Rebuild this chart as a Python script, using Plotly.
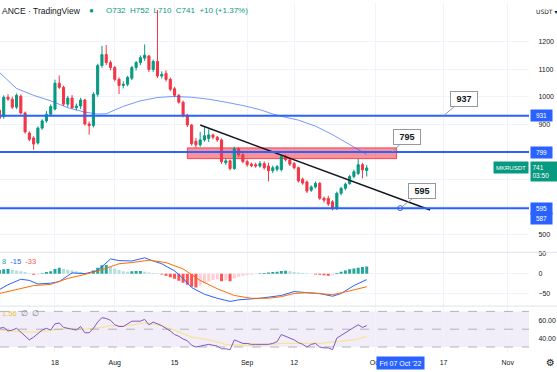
import pandas as pd
import plotly.graph_objects as go

# ---------------- data (daily MKRUSDT, Jul 5 - Sep 29 2022) ----------------
first_day = "2022-07-05"
opens = [951, 928, 998, 991, 962, 1002, 941, 868, 850, 832, 886, 912, 936,
         955, 1049, 1034, 973, 995, 960, 966, 988, 901, 895, 1009, 1113, 1153,
         1124, 1106, 1063, 1041, 1045, 1067, 1106, 1124, 1140, 1148, 1099, 1128,
         1075, 1085, 1063, 1029, 1005, 980, 933, 897, 838, 825, 843, 848, 861, 853,
         843, 760, 767, 739, 811, 789, 764, 755, 753, 748,
         757, 748, 731, 736, 735, 782, 771, 757, 742, 700, 690, 660, 672, 685, 631,
         630, 618, 593, 649, 667, 684, 710, 721, 753, 732]
highs = [960, 1005, 1009, 1000, 1012, 1008, 946, 874, 856, 892, 918, 948, 972,
         1062, 1077, 1040, 1003, 1006, 975, 996, 992, 910, 1016, 1120, 1185, 1188,
         1132, 1112, 1070, 1056, 1076, 1112, 1130, 1150, 1190, 1152, 1135, 1315,
         1092, 1096, 1070, 1036, 1010, 986, 938, 901, 850, 872, 890, 882, 866, 857,
         848, 776, 771, 818, 816, 795, 771, 761, 760, 766,
         765, 760, 750, 752, 787, 790, 777, 763, 746, 706, 696, 678, 692, 690, 637,
         640, 624, 655, 672, 688, 716, 735, 775, 760, 752]
lows = [915, 920, 985, 955, 955, 935, 866, 838, 807, 826, 880, 905, 930,
        950, 1028, 966, 962, 955, 950, 955, 895, 862, 888, 1000, 1105, 1115,
        1096, 1056, 1010, 1030, 1038, 1060, 1095, 1115, 1130, 1090, 1090, 1068,
        1066, 1055, 1020, 998, 975, 925, 890, 822, 815, 818, 836, 835, 845, 836,
        756, 752, 732, 734, 780, 758, 745, 744, 742, 742,
        735, 692, 722, 728, 728, 765, 748, 736, 688, 680, 650, 654, 667, 625, 615,
        603, 587, 588, 642, 660, 680, 703, 715, 703, 710]
closes = [922, 998, 991, 962, 1005, 941, 872, 845, 828, 886, 912, 936, 964,
          1049, 1034, 973, 995, 960, 966, 988, 901, 895, 1009, 1113, 1153, 1124,
          1106, 1063, 1041, 1045, 1070, 1106, 1124, 1142, 1151, 1099, 1128, 1075,
          1081, 1063, 1027, 1005, 980, 933, 897, 829, 825, 843, 858, 861, 853, 843,
          764, 767, 739, 811, 789, 764, 753, 749, 748, 757,
          742, 731, 742, 746, 782, 771, 755, 742, 694, 686, 657, 672, 685, 631, 624,
          610, 592, 649, 667, 682, 710, 727, 753, 734, 741]

# moving average (dates, values)
ma_dates = ["2022-07-05", "2022-07-09", "2022-07-13", "2022-07-17", "2022-07-21",
            "2022-07-25", "2022-07-28", "2022-07-30", "2022-08-03", "2022-08-07",
            "2022-08-11", "2022-08-15", "2022-08-19", "2022-08-23", "2022-08-27",
            "2022-08-31", "2022-09-04", "2022-09-07", "2022-09-10", "2022-09-13",
            "2022-09-17", "2022-09-21", "2022-09-25", "2022-09-29"]
ma_values = [1088, 1030, 1005, 985, 960, 944, 937, 938, 965, 985, 997, 1001,
             998, 991, 980, 968, 953, 937, 925, 915, 893, 862, 826, 790]

# MACD pane
macd_dates = ["2022-07-05", "2022-07-07", "2022-07-10", "2022-07-12", "2022-07-14",
              "2022-07-17", "2022-07-19", "2022-07-22", "2022-07-25", "2022-07-28",
              "2022-07-31", "2022-08-02", "2022-08-05", "2022-08-08", "2022-08-10",
              "2022-08-12", "2022-08-15", "2022-08-17", "2022-08-19", "2022-08-22",
              "2022-08-25", "2022-08-28", "2022-08-30", "2022-09-04", "2022-09-09",
              "2022-09-12", "2022-09-15", "2022-09-18", "2022-09-21", "2022-09-23",
              "2022-09-26", "2022-09-29"]
macd_values = [-40, -28, -14, -17, -26, -24, -20, 2, 0, 8, 37, 33, 32, 40, 32, 25,
               7, -12, -35, -52, -62, -70, -66, -62, -55, -45, -48, -50, -57, -50,
               -30, -15]
signal_dates = ["2022-07-05", "2022-07-08", "2022-07-13", "2022-07-17", "2022-07-21",
                "2022-07-25", "2022-07-29", "2022-08-02", "2022-08-05", "2022-08-09",
                "2022-08-13", "2022-08-17", "2022-08-21", "2022-08-25", "2022-08-29",
                "2022-09-02", "2022-09-06", "2022-09-09", "2022-09-12", "2022-09-15",
                "2022-09-18", "2022-09-21", "2022-09-24", "2022-09-29"]
signal_values = [-50, -42, -30, -27, -12, -2, 10, 25, 28, 34, 28, 12, -17, -38,
                 -55, -62, -62, -58, -50, -48, -50, -53, -46, -33]
hist_values = [9, 11, 12, 10, 8, 6, 4, 1, -3, -2, 1, 4, 6,
               12, 15, 12, 10, 8, 6, 4, 2, 1, 8, 15, 21, 22,
               18, 13, 9, 6, 5, 6, 7, 7, 5, 3, 2, 1,
               -2, -5, -9, -13, -18, -23, -28, -33, -35, -30, -25, -20, -16, -14,
               -19, -17, -19, -12, -8, -6, -4, -3, -1, 1,
               2, 3, 4, 5, 7, 7.5, 6, 4, 3, 2, 1, 0, -2, -3, -4, -5, -3, 2, 5, 8,
               11, 13, 15, 17, 18]

# RSI pane
rsi_values = [51, 52, 48, 49, 51, 47, 42, 38, 41, 45, 49, 51, 49,
              56, 57, 52, 51, 50, 49, 53, 46, 46, 51, 58, 63, 62,
              60, 55, 53, 53, 56, 59, 59, 59, 61, 55, 58, 56,
              54, 51, 48, 44, 42, 39, 37, 32, 30, 31, 32, 33, 32, 31,
              28, 28, 27, 38, 36, 34, 34, 33, 33, 33,
              33, 33, 34, 36, 44, 42, 40, 38, 35, 33, 30, 33, 34, 30, 29, 29, 27,
              40, 43, 46, 49, 52, 55, 52, 54]
rsima_dates = ["2022-07-05", "2022-07-10", "2022-07-14", "2022-07-18", "2022-07-21",
               "2022-07-25", "2022-07-29", "2022-07-31", "2022-08-04", "2022-08-08",
               "2022-08-11", "2022-08-15", "2022-08-19", "2022-08-23", "2022-08-27",
               "2022-08-30", "2022-09-04", "2022-09-09", "2022-09-13", "2022-09-18",
               "2022-09-22", "2022-09-26", "2022-09-29"]
rsima_values = [49, 47, 47, 49, 51, 50, 52, 54, 54, 57, 55, 49, 41, 38, 33, 32,
                32, 34, 34, 34, 36, 38, 41.56]

# drawings
levels = [931, 799, 595]
zone_dates = ["2022-08-18 00:00", "2022-10-06 00:00"]
zone_prices = [775, 814]
trend_dates = ["2022-08-21 00:00", "2022-10-13 20:00"]
trend_prices = [897, 588]
callout_texts = ["937", "795", "595"]
callout_dates = ["2022-10-17 00:00", "2022-10-05 00:00", "2022-10-06 20:00"]
callout_prices = [931, 799, 595]
callout_dx = [20, 15, 22]
callout_dy = [-17, -15, -17]

axis_tags = [("931", 931, 0), ("799", 799, 0), ("595", 595, 0), ("587", 587, -8)]
price_ticks = [500, 600, 700, 800, 900, 1000, 1100, 1200]
price_labels = ["500", "", "", "", "900", "1000", "1100", "1200"]
date_ticks = ["2022-07-18", "2022-08-01", "2022-08-15", "2022-09-01",
              "2022-09-12", "2022-10-01", "2022-10-17", "2022-11-01"]
date_labels = ["18", "Aug", "15", "Sep", "12", "Oct", "17", "Nov"]
x_range = ["2022-07-05 03:00", "2022-11-06 00:00"]
crosshair_date = "2022-10-07"

# ---------------- figure ----------------
GREEN = "#089981"
RED = "#F23645"
BLUE = "#2962FF"
GRID = "#f0f3fa"


def ts(values):
    return pd.to_datetime(values, format="ISO8601")


dates = pd.date_range(first_day, periods=len(opens), freq="D")

fig = go.Figure()
fig.add_trace(go.Candlestick(
    x=dates, open=opens, high=highs, low=lows, close=closes,
    increasing=dict(line=dict(color=GREEN, width=1), fillcolor=GREEN),
    decreasing=dict(line=dict(color=RED, width=1), fillcolor=RED),
    whiskerwidth=0, xaxis="x", yaxis="y", hoverinfo="skip"))
fig.add_trace(go.Scatter(x=ts(ma_dates), y=ma_values, mode="lines",
                         line=dict(color="rgba(41,98,255,0.65)", width=1),
                         xaxis="x", yaxis="y"))
fig.add_trace(go.Scatter(x=ts(trend_dates), y=trend_prices, mode="lines",
                         line=dict(color="#131722", width=1.5), xaxis="x", yaxis="y"))
fig.add_trace(go.Scatter(x=ts([callout_dates[2]]), y=[callout_prices[2]],
                         mode="markers",
                         marker=dict(size=5, color="white", line=dict(color=BLUE, width=1)),
                         xaxis="x", yaxis="y"))

# MACD
hist_colors = []
prev = 0
for v in hist_values:
    if v >= 0:
        hist_colors.append("#26A69A" if v >= prev else "#B2DFDB")
    else:
        hist_colors.append("#FF5252" if v <= prev else "#FFCDD2")
    prev = v
fig.add_trace(go.Bar(x=dates, y=hist_values, marker=dict(color=hist_colors, line=dict(width=0)),
                     xaxis="x2", yaxis="y2"))
fig.add_trace(go.Scatter(x=ts(macd_dates), y=macd_values, mode="lines",
                         line=dict(color=BLUE, width=1), xaxis="x2", yaxis="y2"))
fig.add_trace(go.Scatter(x=ts(signal_dates), y=signal_values, mode="lines",
                         line=dict(color="#FF6D00", width=1), xaxis="x2", yaxis="y2"))

# RSI
fig.add_trace(go.Scatter(x=ts(rsima_dates), y=rsima_values, mode="lines",
                         line=dict(color="rgba(251,222,110,0.7)", width=1.3),
                         xaxis="x3", yaxis="y3"))
fig.add_trace(go.Scatter(x=dates, y=rsi_values, mode="lines",
                         line=dict(color="#7E57C2", width=1), xaxis="x3", yaxis="y3"))

shapes = []
shapes.append(dict(type="rect", xref="x", yref="y", x0=zone_dates[0], x1=zone_dates[1],
                   y0=zone_prices[0], y1=zone_prices[1], layer="between",
                   fillcolor="rgba(242,54,69,0.55)", line=dict(color="rgba(242,54,69,0.9)", width=1)))
for lv in levels:
    shapes.append(dict(type="line", xref="paper", yref="y", x0=0, x1=1, y0=lv, y1=lv,
                       line=dict(color=BLUE, width=2)))
shapes.append(dict(type="rect", xref="paper", yref="y3", x0=0, x1=1, y0=30, y1=70,
                   layer="between", fillcolor="rgba(126,87,194,0.1)", line=dict(width=0)))
for lv in [70, 50, 30]:
    shapes.append(dict(type="line", xref="paper", yref="y3", x0=0, x1=1, y0=lv, y1=lv,
                       line=dict(color="rgba(120,123,134,0.55)", width=1, dash="dash")))
for py in [0.2855, 0.1315]:
    shapes.append(dict(type="line", xref="paper", yref="paper", x0=0, x1=1.06, y0=py, y1=py,
                       line=dict(color="#e0e3eb", width=1)))

ann = []
ann.append(dict(xref="paper", yref="paper", x=0, y=1 - 8 / 352, xanchor="left", yanchor="middle",
                text="ANCE · TradingView", showarrow=False,
                font=dict(size=8.5, color="#131722")))
ann.append(dict(xref="paper", yref="paper", x=91 / 529, y=1 - 8 / 352, xanchor="center", yanchor="middle",
                text="●", showarrow=False, font=dict(size=8, color=GREEN)))
ann.append(dict(xref="paper", yref="paper", x=104 / 529, y=1 - 8 / 352, xanchor="left", yanchor="middle",
                text="O732  H752  L710  C741  +10 (+1.37%)", showarrow=False,
                font=dict(size=8, color=GREEN)))
ann.append(dict(xref="paper", yref="paper", x=534 / 529, y=1 - 9 / 352, xanchor="left", yanchor="middle",
                text="USDT ▾", showarrow=False, font=dict(size=6, color="#131722", family="DejaVu Sans")))
ann.append(dict(xref="paper", yref="paper", x=0, y=1 - 261 / 352, xanchor="left", yanchor="middle",
                showarrow=False, font=dict(size=7.5),
                text="<span style='color:#26A69A'>8</span>  <span style='color:#2962FF'>-15</span>"
                     "  <span style='color:#FF5252'>-33</span>"))
ann.append(dict(xref="paper", yref="paper", x=0, y=1 - 313 / 352, xanchor="left", yanchor="middle",
                showarrow=False, font=dict(size=7.5),
                text="<span style='color:#e8c33a'>1.56</span>  <span style='color:#787B86'>∅  ∅</span>"))
for t, d, p, dx, dy in zip(callout_texts, callout_dates, callout_prices, callout_dx, callout_dy):
    ann.append(dict(xref="x", yref="y", x=d, y=p, ax=dx, ay=dy, text="<b>" + t + "</b>",
                    showarrow=True, arrowhead=0, arrowwidth=1, arrowcolor="#9598a1",
                    bgcolor="white", bordercolor="#9598a1", borderwidth=1, borderpad=2,
                    width=22, height=10, font=dict(size=9, color="#131722")))
for t, p, sh in axis_tags:
    ann.append(dict(xref="paper", yref="y", x=530 / 529, y=p, yshift=sh, xanchor="left",
                    yanchor="middle", text=t, showarrow=False, bgcolor=BLUE, width=18, height=8,
                    borderpad=1.5, font=dict(size=6.5, color="white")))
ann.append(dict(xref="paper", yref="y", x=1, y=closes[-1], xanchor="right", yanchor="middle",
                text="MKRUSDT", showarrow=False, bgcolor=GREEN, width=31, height=8, borderpad=1.5,
                font=dict(size=6, color="white")))
ann.append(dict(xref="paper", yref="y", x=530 / 529, y=closes[-1], yshift=-3.5, xanchor="left",
                yanchor="middle", text=str(closes[-1]) + "<br>03:50", showarrow=False, bgcolor=GREEN,
                width=23, height=16, borderpad=1.5, align="left", font=dict(size=6.5, color="white")))
ann.append(dict(xref="x3", yref="paper", x=crosshair_date, y=1 - 363.5 / 352, xanchor="center",
                yanchor="middle", text="Fri 07 Oct '22", showarrow=False, bgcolor=BLUE,
                borderpad=2.5, font=dict(size=7, color="white")))
ann.append(dict(xref="paper", yref="paper", x=550 / 529, y=1 - 363 / 352, xanchor="center",
                yanchor="middle", text="⚙", showarrow=False,
                font=dict(size=10, color="#131722", family="DejaVu Sans")))

xcommon = dict(type="date", range=x_range, tickvals=date_ticks, ticktext=date_labels,
               showgrid=True, gridcolor=GRID, gridwidth=1, zeroline=False, showline=False,
               ticks="outside", ticklen=4, tickcolor="rgba(0,0,0,0)",
               tickfont=dict(size=7, color="#131722"))
fig.update_layout(
    width=557, height=372, margin=dict(l=0, r=28, t=0, b=20),
    paper_bgcolor="white", plot_bgcolor="white", showlegend=False,
    font=dict(family="Liberation Sans, Arial, sans-serif", size=7, color="#131722"),
    bargap=0.3, hovermode=False,
    xaxis=dict(**xcommon, anchor="y", showticklabels=False, rangeslider=dict(visible=False)),
    xaxis2=dict(**xcommon, anchor="y2", showticklabels=False, matches="x"),
    xaxis3=dict(**xcommon, anchor="y3", showticklabels=True, matches="x"),
    yaxis=dict(domain=[0.2869, 1], range=[436, 1340.6], side="right", tickvals=price_ticks,
               ticktext=price_labels,
               showgrid=True, gridcolor=GRID, zeroline=False, ticks="outside", ticklen=7,
               tickcolor="rgba(0,0,0,0)", tickfont=dict(size=7, color="#131722")),
    yaxis2=dict(domain=[0.1307, 0.2841], range=[-82.5, 52.5], side="right", tickvals=[50, 0, -50],
                showgrid=True, gridcolor=GRID, zeroline=False, ticks="outside", ticklen=7,
                tickcolor="rgba(0,0,0,0)", tickfont=dict(size=7, color="#131722")),
    yaxis3=dict(domain=[0, 0.1307], range=[24.4, 75.6], side="right", tickvals=[60, 40],
                ticktext=["60.00", "40.00"], showgrid=False, zeroline=False, ticks="outside",
                ticklen=7, tickcolor="rgba(0,0,0,0)", tickfont=dict(size=7, color="#131722")),
    shapes=shapes, annotations=ann,
)

fig.write_html("out.html", config={"displayModeBar": False, "staticPlot": True},
               post_script="document.body.style.margin='0';document.body.style.overflow='hidden';")
